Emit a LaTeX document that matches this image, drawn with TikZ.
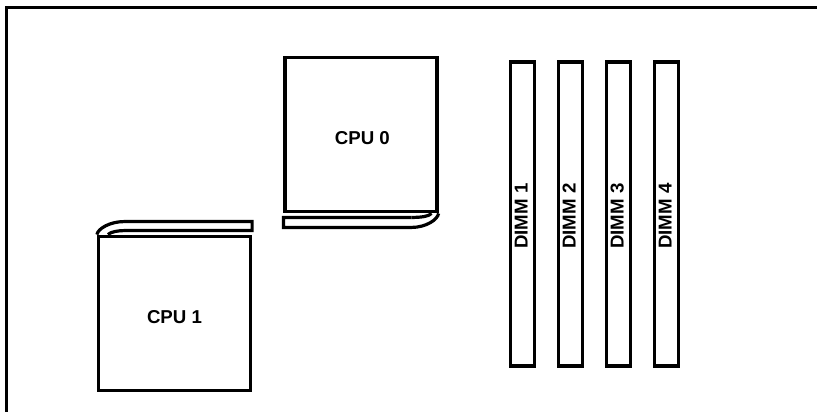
\documentclass[tikz,border=0pt]{standalone}
\usepackage{fontspec}
\setmainfont{Liberation Sans}
\usepackage{tikz}
\usetikzlibrary{calc}

\begin{document}
\begin{tikzpicture}[
      x=0.75pt, y=-0.75pt,
      part/.style={draw=black, line width=2.4pt, inner sep=0pt, font=\fontsize{14}{16}\selectfont\bfseries},
      cpubox/.style={part, minimum width=114pt, minimum height=116pt},
      dimmbox/.style={part, rotate=90, minimum width=228pt, minimum height=18pt},
      edge/.style={line width=2.4pt, line cap=butt}
    ]
      \useasboundingbox (0,0) rectangle (817,412);

      % Outer frame
      \coordinate (frametop) at (817,7.5);
      \coordinate (framecorner) at (6.5,7.5);
      \coordinate (framebottom) at (6.5,412);
      \draw[edge] (frametop) -- (framecorner) -- (framebottom);

      % CPU 0
      \node[cpubox] (cpu0) at (361,134.5) {\hspace*{2pt}\raisebox{-3pt}[\height][\depth]{CPU 0}};
      \coordinate (strip0a) at ($(cpu0.south west)+(0,4)$);
      \coordinate (strip0b) at ($(cpu0.south west)+(0,14)$);
      \coordinate (strip0c) at ($(strip0a)+(128,0)$);
      \coordinate (strip0d) at ($(strip0b)+(128,0)$);
      \draw[edge] (strip0c) -- (strip0a) -- (strip0b) -- (strip0d)
        .. controls +(15,0) and +(-1,6) .. (cpu0.south east);
      \draw[edge] (strip0c) .. controls +(10,0) and +(-3,3) .. ($(cpu0.south east)+(-7,0)$);

      % CPU 1
      \node[cpubox] (cpu1) at (174.5,313.5) {\raisebox{-2.5pt}[\height][\depth]{CPU 1}};
      \coordinate (strip1a) at ($(cpu1.north east)+(0,-4)$);
      \coordinate (strip1b) at ($(cpu1.north east)+(0,-13)$);
      \coordinate (strip1c) at ($(strip1a)+(-128,0)$);
      \coordinate (strip1d) at ($(strip1b)+(-128,0)$);
      \draw[edge] (strip1c) -- (strip1a) -- (strip1b) -- (strip1d)
        .. controls +(-14,0) and +(1,-6) .. (cpu1.north west);
      \draw[edge] (strip1c) .. controls +(-5,0) and +(3,-3) .. ($(cpu1.north west)+(11,0)$);

      % DIMM slots
      \foreach \n/\xpos in {1/522.5, 2/570.5, 3/618.5, 4/666.5} {
        \node[dimmbox] (dimm\n) at (\xpos,214) {\raisebox{1pt}[\height][\depth]{DIMM \n}\hspace*{3pt}};
      }
    \end{tikzpicture}
\end{document}
